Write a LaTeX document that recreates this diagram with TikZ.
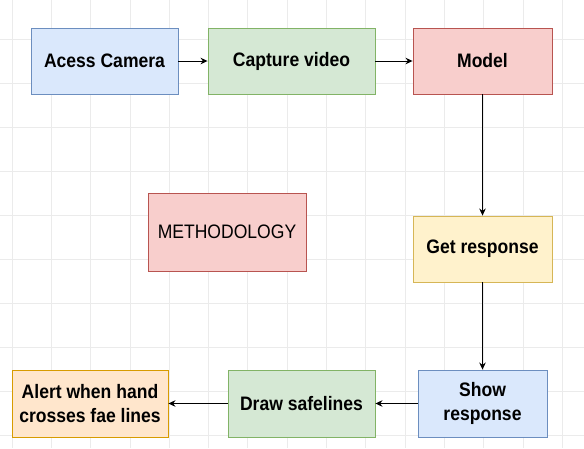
\documentclass[tikz,border=0pt]{standalone}
\usepackage{fontspec}
\setmainfont{Liberation Sans}[FakeStretch=0.9]
\usetikzlibrary{arrows.meta}
\definecolor{gridc}{HTML}{EBEBEB}
\definecolor{bluef}{HTML}{DAE8FC}\definecolor{blued}{HTML}{6C8EBF}
\definecolor{greenf}{HTML}{D5E8D4}\definecolor{greend}{HTML}{82B366}
\definecolor{redf}{HTML}{F8CECC}\definecolor{redd}{HTML}{B85450}
\definecolor{yellowf}{HTML}{FFF2CC}\definecolor{yellowd}{HTML}{D6B656}
\definecolor{orangef}{HTML}{FFE6CC}\definecolor{oranged}{HTML}{D79B00}
\tikzset{
  box/.style={draw, line width=0.9pt, inner sep=0pt, align=center,
    font=\fontsize{19.5}{23.4}\selectfont\bfseries, text=black},
  flow/.style={-{Stealth[length=7pt,width=6.5pt]}, line width=1pt, black},
}
\newcommand{\bx}[7]{% name, x1,y1,x2,y2, style, text
  \node[box,#6,minimum width={(#4-#2)*1pt},minimum height={(#5-#3)*1pt}] (#1) at ({(#2+#4)/2},{(#3+#5)/2}) {#7};}
\begin{document}
\begin{tikzpicture}[x=1pt,y=-1pt]
\useasboundingbox[fill=white] (0,0) rectangle (584,448);
% grid
\foreach \i in {0,...,14} \draw[gridc, line width=0.8pt] ({12+39.3*\i},0) -- ({12+39.3*\i},448);
\foreach \j in {0,...,9} \draw[gridc, line width=0.8pt] (0,{39+44*\j}) -- (584,{39+44*\j});
% boxes
\bx{cam}{31}{28}{178}{94}{fill=bluef,draw=blued}{Acess Camera}
\bx{cap}{208}{28}{375}{94}{fill=greenf,draw=greend}{Capture video}
\bx{model}{413}{28}{552}{94}{fill=redf,draw=redd}{Model}
\bx{get}{413}{216}{552}{282}{fill=yellowf,draw=yellowd}{Get response}
\bx{show}{418}{370}{547}{437}{fill=bluef,draw=blued}{Show\\response}
\bx{draw}{228}{370}{375}{437}{fill=greenf,draw=greend}{Draw safelines}
\bx{alert}{12}{370}{168}{437}{fill=orangef,draw=oranged}{Alert when hand\\crosses fae lines}
\bx{meth}{148}{193}{306}{271}{fill=redf,draw=redd,font=\fontsize{19.5}{23.4}\selectfont\mdseries}{METHODOLOGY}
% connectors
\draw[flow] (cam) -- (cap);
\draw[flow] (cap) -- (model);
\draw[flow] (model.south -| get.north) -- (get);
\draw[flow] (get) -- (get.south |- show.north);
\draw[flow] (show) -- (draw);
\draw[flow] (draw) -- (alert);
\end{tikzpicture}
\end{document}
